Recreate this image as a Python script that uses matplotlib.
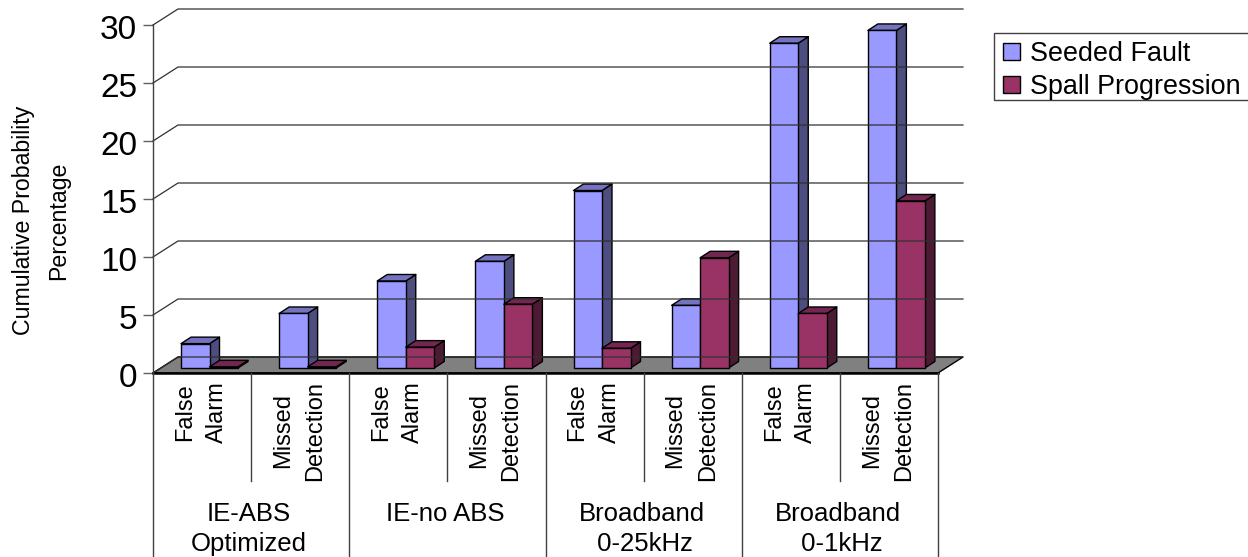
import matplotlib
matplotlib.use('Agg')
import matplotlib.pyplot as plt
import matplotlib.patches as mpatches
from matplotlib.patches import Polygon, Rectangle
from matplotlib.transforms import ScaledTranslation

matplotlib.rc('font', family=['Liberation Sans', 'DejaVu Sans'])

group_labels = ['IE-ABS\nOptimized', 'IE-no ABS', 'Broadband\n 0-25kHz', 'Broadband\n 0-1kHz']
metric_labels = ['False\nAlarm', 'Missed\nDetection'] * 4
seeded_fault = [2.1, 4.7, 7.5, 9.2, 15.3, 5.4, 28.0, 29.1]
spall_progression = [0.1, 0.1, 1.8, 5.5, 1.7, 9.5, 4.7, 14.4]
y_ticks = [0, 5, 10, 15, 20, 25, 30]

W, H = 1248, 557
LEFT, RIGHT, BOTTOM, TOP = 153, 938, 373, 25
PX_X = (RIGHT - LEFT) / 8
PX_Y = (BOTTOM - TOP) / 30

# depth of the fake 3D box, in data units
DEPTH_X = 25 / PX_X
DEPTH_Y = 16 / PX_Y
BAR_DX = 10 / PX_X
BAR_DY = 6.5 / PX_Y
BAR_W = 28.5 / PX_X
BAR_X0 = 28 / PX_X
BAR_Y0 = 5 / PX_Y

SEEDED = ('#9999FF', '#4D4D80', '#7373BF')
SPALL = ('#993366', '#4D1A33', '#732650')


def below(px):
    # data y for a pixel row of the picture
    return (BOTTOM - px) / PX_Y


def draw_bar(ax, x, value, colors):
    x1 = x + BAR_W
    y0 = BAR_Y0
    y1 = y0 + value
    kw = dict(edgecolor='black', linewidth=1.0, clip_on=False, joinstyle='round')
    ax.add_patch(Polygon([(x1, y0), (x1 + BAR_DX, y0 + BAR_DY), (x1 + BAR_DX, y1 + BAR_DY), (x1, y1)],
                         facecolor=colors[1], **kw))
    ax.add_patch(Polygon([(x, y1), (x1, y1), (x1 + BAR_DX, y1 + BAR_DY), (x + BAR_DX, y1 + BAR_DY)],
                         facecolor=colors[2], **kw))
    ax.add_patch(Polygon([(x, y0), (x1, y0), (x1, y1), (x, y1)], facecolor=colors[0], **kw))


fig = plt.figure(figsize=(W / 100, H / 100), dpi=100)
ax = fig.add_axes([LEFT / W, 1 - BOTTOM / H, (RIGHT - LEFT) / W, (BOTTOM - TOP) / H])
ax.set_xlim(0, 8)
ax.set_ylim(0, 30)
ax.patch.set_visible(False)
for name in ['top', 'right', 'bottom']:
    ax.spines[name].set_visible(False)
ax.spines['left'].set_color('#404040')
ax.spines['left'].set_linewidth(1.0)

ax.set_yticks(y_ticks)
ax.tick_params(axis='y', length=7, width=1.0, color='#606060', pad=4.3, labelsize=24)
ax.set_xticks([])
# tick labels sit a little under their ticks
shift = ScaledTranslation(0, -2 / 100, fig.dpi_scale_trans)
for lab in ax.get_yticklabels():
    lab.set_transform(lab.get_transform() + shift)

# back wall grid, with the short diagonal on the left wall
for t in y_ticks:
    ax.plot([0, DEPTH_X, 8 + DEPTH_X], [t, t + DEPTH_Y, t + DEPTH_Y], color='#303030', lw=0.9, clip_on=False)

# floor
ax.add_patch(Polygon([(0, 0), (8, 0), (8 + DEPTH_X, DEPTH_Y), (DEPTH_X, DEPTH_Y)],
                     facecolor='#808080', edgecolor='black', linewidth=1.0, clip_on=False))
ax.plot([0, 8], [0, 0], color='black', lw=1.8, clip_on=False)

for i in range(8):
    draw_bar(ax, i + BAR_X0, seeded_fault[i], SEEDED)
    draw_bar(ax, i + BAR_X0 + BAR_W, spall_progression[i], SPALL)

# two level category axis below the floor
for i in range(9):
    end = 557 if i % 2 == 0 else 481
    ax.plot([i, i], [0, below(end)], color='#404040', lw=1.0, clip_on=False)

for i, label in enumerate(metric_labels):
    ax.text(i + 0.5 - 0.01, below(381), label, rotation=90, ha='center', va='top', fontsize=17,
            linespacing=1.6, multialignment='center')

for i, label in enumerate(group_labels):
    ax.text(2 * i + 1 - 0.02, below(502), label, ha='center', va='top', fontsize=18.5,
            linespacing=1.3, multialignment='center')

fig.text(30 / W, 1 - 220 / H, 'Cumulative Probability', rotation=90, ha='center', va='baseline',
         rotation_mode='anchor', fontsize=16.7)
fig.text(65 / W, 1 - 221 / H, 'Percentage', rotation=90, ha='center', va='baseline',
         rotation_mode='anchor', fontsize=16.7)

# legend frame is tighter than legend padding allows, so it is drawn apart
# it runs off the right edge like the original
fig.add_artist(Rectangle((994 / W, 1 - 100 / H), 260 / W, 67 / H, transform=fig.transFigure,
                         facecolor='white', edgecolor='#404040', linewidth=1.0))
handles = [
    mpatches.Patch(facecolor=SEEDED[0], edgecolor='black', label='Seeded Fault'),
    mpatches.Patch(facecolor=SPALL[0], edgecolor='black', label='Spall Progression'),
]
fig.legend(handles=handles, loc='upper left', bbox_to_anchor=(1003 / W, 1 - 41 / H), borderaxespad=0,
           frameon=False, fontsize=19.4, handlelength=0.63, handleheight=0.6, handletextpad=0.37,
           labelspacing=0.27, borderpad=0)

fig.savefig('out.png', dpi=100)
